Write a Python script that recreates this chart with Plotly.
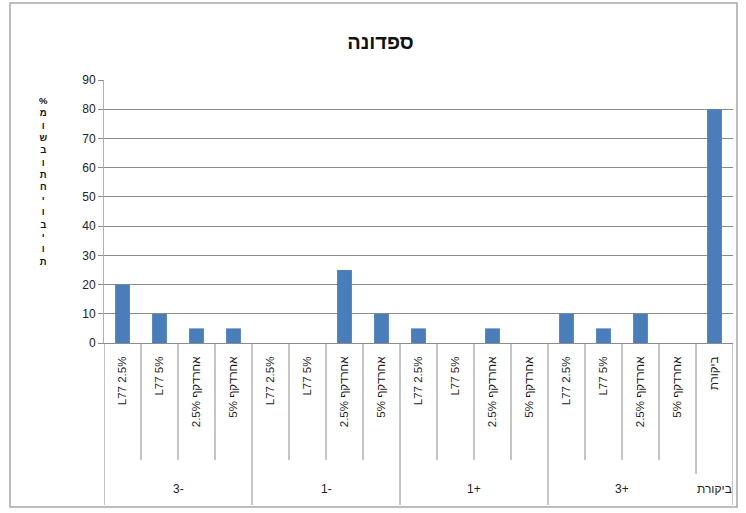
import plotly.graph_objects as go

groups = ["3-", "1-", "1+", "3+"]
control_label = "ביקורת"
subcats = ["L77 2.5%", "L77 5%", "אחרדקף 2.5%", "אחרדקף 5%"]
values_m3 = [20, 10, 5, 5]
values_m1 = [0, 0, 25, 10]
values_p1 = [5, 0, 5, 0]
values_p3 = [10, 5, 10, 0]
value_control = [80]
title_text = "ספדונה"
ylabel_word1 = ["מ", "ו", "ש", "ב", "ו", "ת"]
ylabel_word2 = ["ח", "י", "ו", "ב", "י", "ו", "ת"]
yticks = [0, 10, 20, 30, 40, 50, 60, 70, 80, 90]

all_vals = values_m3 + values_m1 + values_p1 + values_p3 + value_control
keys = []
ticktext = []
for g in groups:
    for s in subcats:
        keys.append(g + "|" + s)
        ticktext.append(s)
keys.append("ctrl|" + control_label)
ticktext.append(control_label)

FONT = "Liberation Sans, Arial, DejaVu Sans, sans-serif"
W, H = 746, 513
L, R, T, B = 104, 13, 80, 170
pw = W - L - R
ph = H - T - B

def py(p):
    return (H - B - p) / ph

def px(p):
    return (p - L) / pw

fig = go.Figure()
fig.add_trace(go.Bar(x=keys, y=all_vals, marker=dict(color="#4a7ebb", line=dict(width=0)),
                     width=0.4, showlegend=False))

shapes = []
shapes.append(dict(type="rect", xref="paper", yref="paper", x0=px(10), x1=px(737), y0=py(507), y1=py(3),
                   line=dict(color="#a8a8a8", width=1.5), layer="below"))
n = len(keys)
for i in range(n + 1):
    xb = i - 0.5
    if i % 4 == 0 or i == n:
        ybot = py(505)
        if i == 16:
            ybot = py(474)
    else:
        ybot = py(460)
    shapes.append(dict(type="line", xref="x", yref="paper", x0=xb, x1=xb, y0=0, y1=ybot,
                       line=dict(color="#8c8c8c", width=1)))

annotations = []
for gi, g in enumerate(groups):
    annotations.append(dict(x=gi * 4 + 1.5, y=py(489), xref="x", yref="paper", text=g, showarrow=False,
                            yanchor="middle", font=dict(size=12, color="#222", family=FONT)))
annotations.append(dict(x=16, y=py(489), xref="x", yref="paper", text=control_label, showarrow=False,
                        yanchor="middle", font=dict(size=12, color="#222", family=FONT)))

# stacked vertical axis title, one letter per line
ylabel_text = "<b>" + "<br>".join(["%"] + ylabel_word1 + ylabel_word2) + "</b>"
annotations.append(dict(x=px(43), y=py(181), xref="paper", yref="paper", text=ylabel_text, showarrow=False,
                        xanchor="center", yanchor="middle", align="center",
                        font=dict(size=9.5, color="#111", family=FONT)))

fig.update_layout(
    width=W, height=H, margin=dict(l=L, r=R, t=T, b=B, autoexpand=False),
    paper_bgcolor="white", plot_bgcolor="white",
    title=dict(text="<b>" + title_text + "</b>", x=0.51, xanchor="center", y=1 - 42 / H, yanchor="middle",
               font=dict(size=20, color="#111", family=FONT)),
    bargap=0.6,
    xaxis=dict(type="category", tickmode="array", tickvals=keys, ticktext=ticktext, tickangle=-90,
               tickfont=dict(size=11.5, color="#1a1a1a", family=FONT), showline=True, linecolor="#8c8c8c",
               ticks="", showgrid=False, range=[-0.5, n - 0.5], ticklabelstandoff=8),
    yaxis=dict(range=[0, 90], tickvals=yticks, showgrid=True, gridcolor="#8c8c8c", gridwidth=1,
               showline=True, linecolor="#b0b0b0", ticks="outside", ticklen=5, tickcolor="#8c8c8c",
               tickfont=dict(size=12, color="#222", family=FONT), zeroline=False),
    shapes=shapes, annotations=annotations,
)
fig.write_html("out.html")
